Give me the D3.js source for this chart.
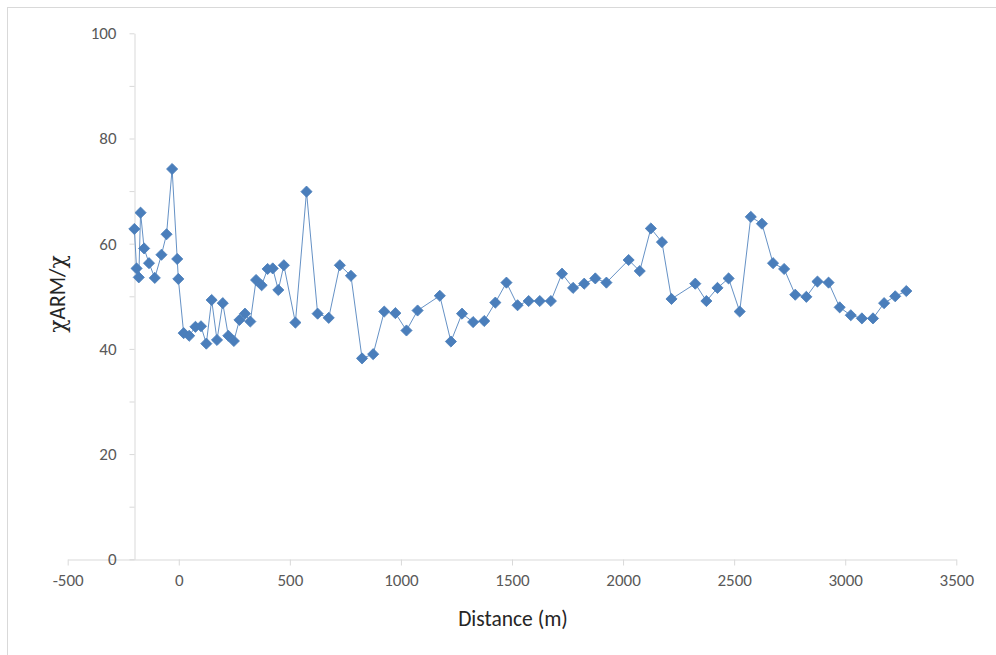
<!DOCTYPE html>
<html>
<head>
<meta charset="utf-8">
<script src="https://cdn.jsdelivr.net/npm/d3@7"></script>
<style>
  html, body { margin: 0; padding: 0; background: #fff; }
  svg { display: block; }
  text { font-family: Carlito, Calibri, Lato, "Open Sans", sans-serif; }
</style>
</head>
<body>
<svg id="chart" width="996" height="655"></svg>
<script>
// Distance (m)
const distance = [
  -200, -190, -180, -172, -156, -134, -108, -78, -55, -30, -7, -2,
  22, 47, 75, 100, 124, 148, 172, 198, 223, 248, 273, 298, 322, 348, 373, 400, 423, 448, 473,
  525, 575, 625, 675, 725, 775, 825, 875, 925, 975, 1025, 1075, 1175, 1225, 1275, 1325, 1375,
  1425, 1475, 1525, 1575, 1625, 1675, 1725, 1775, 1825, 1875, 1925, 2025, 2075, 2125, 2175, 2218,
  2325, 2375, 2425, 2475, 2525, 2575, 2625, 2675, 2725, 2775, 2825, 2875, 2925, 2975, 3025, 3075,
  3125, 3175, 3225, 3275
];
// chiARM / chi
const ratio = [
  62.8, 55.3, 53.6, 65.9, 59.1, 56.3, 53.5, 57.9, 61.8, 74.2, 57.1, 53.3,
  43.0, 42.5, 44.2, 44.3, 41.0, 49.3, 41.7, 48.7, 42.5, 41.5, 45.5, 46.7, 45.2, 53.1, 52.1, 55.2, 55.3, 51.2, 55.9,
  45.0, 69.9, 46.7, 45.9, 55.9, 53.9, 38.2, 39.0, 47.1, 46.8, 43.5, 47.3, 50.1, 41.4, 46.7, 45.1, 45.3,
  48.8, 52.6, 48.3, 49.1, 49.1, 49.1, 54.3, 51.6, 52.4, 53.4, 52.6, 56.9, 54.8, 62.9, 60.3, 49.5,
  52.4, 49.1, 51.6, 53.4, 47.1, 65.1, 63.8, 56.3, 55.2, 50.3, 49.9, 52.8, 52.6, 47.9, 46.4, 45.8,
  45.8, 48.7, 50.0, 51.0
];
const xTicks = [-500, 0, 500, 1000, 1500, 2000, 2500, 3000, 3500];
const yTicks = [0, 20, 40, 60, 80, 100];
const yMinorTicks = [10, 30, 50, 70, 90];
const xTitle = "Distance (m)";
const yTitleParts = ["χ", "ARM/", "χ"];

(function () {
const data = distance.map((d, i) => ({ x: d, y: ratio[i] }));

const svg = d3.select("#chart");
const W = 996, H = 655;
const pLeft = 67.7, pRight = 956.3, pTop = 33.3, pBottom = 559.3;
const axisColor = "#d9d9d9";
const textColor = "#595959";
const blue = "#4a7ebb";

// outer chart frame
svg.append("rect")
  .attr("x", 7.5).attr("y", 7.5)
  .attr("width", W + 10).attr("height", H + 10)
  .attr("fill", "none").attr("stroke", "#d9d9d9").attr("stroke-width", 1);

const x = d3.scaleLinear().domain([-500, 3500]).range([pLeft, pRight]);
const y = d3.scaleLinear().domain([0, 100]).range([pBottom, pTop]);

// X axis (at y = 0)
const xAxis = svg.append("g")
  .attr("transform", `translate(0,${Math.round(y(0)) + 0.5})`)
  .call(d3.axisBottom(x).tickValues(xTicks).tickSize(6).tickSizeOuter(0).tickFormat(d3.format("d")));
xAxis.select(".domain").attr("stroke", axisColor);
xAxis.selectAll(".tick line").attr("stroke", axisColor);
xAxis.selectAll(".tick text")
  .attr("fill", textColor).attr("font-size", 17).attr("dy", "1.0em")
  .text(d => d < 0 ? "-" + Math.abs(d) : d);

// Y axis (crosses at x = -200)
const yx = Math.round(x(-200)) + 0.5;
const yAxisMinor = svg.append("g")
  .attr("transform", `translate(${yx},0)`)
  .call(d3.axisLeft(y).tickValues(yMinorTicks).tickSize(5).tickFormat(""));
yAxisMinor.select(".domain").remove();
yAxisMinor.selectAll(".tick line").attr("stroke", axisColor);

const yAxis = svg.append("g")
  .attr("transform", `translate(${yx},0)`)
  .call(d3.axisLeft(y).tickValues(yTicks).tickSize(5).tickSizeOuter(0).tickPadding(13));
yAxis.select(".domain").attr("stroke", axisColor);
yAxis.selectAll(".tick text").attr("fill", textColor).attr("font-size", 17);
yAxis.selectAll(".tick line").attr("stroke", axisColor);

// Line
svg.append("path")
  .datum(data)
  .attr("fill", "none")
  .attr("stroke", blue)
  .attr("stroke-opacity", 0.85)
  .attr("stroke-width", 1)
  .attr("d", d3.line().x(d => x(d.x)).y(d => y(d.y)));

// Diamond markers
const sym = d3.symbol().type(d3.symbolSquare).size(62);
svg.append("g").selectAll("path")
  .data(data)
  .join("path")
  .attr("transform", d => `translate(${x(d.x)},${y(d.y)}) rotate(45)`)
  .attr("d", sym)
  .attr("fill", blue)
  .attr("stroke", blue)
  .attr("stroke-width", 0.8);

// Axis titles
svg.append("text")
  .attr("x", (pLeft + pRight) / 2 + 1)
  .attr("y", 626)
  .attr("text-anchor", "middle")
  .attr("fill", "#262626")
  .attr("font-size", 21.5)
  .text(xTitle);

const yt = svg.append("text")
  .attr("transform", `translate(65,294) rotate(-90)`)
  .attr("text-anchor", "middle")
  .attr("fill", "#262626")
  .attr("font-size", 21.5);
yTitleParts.forEach((p, i) => {
  yt.append("tspan")
    .attr("font-family", p === "χ" ? "'DejaVu Serif', serif" : null)
    .attr("font-size", p === "χ" ? 22 : null)
    .text(p);
});
})();
</script>
</body>
</html>
